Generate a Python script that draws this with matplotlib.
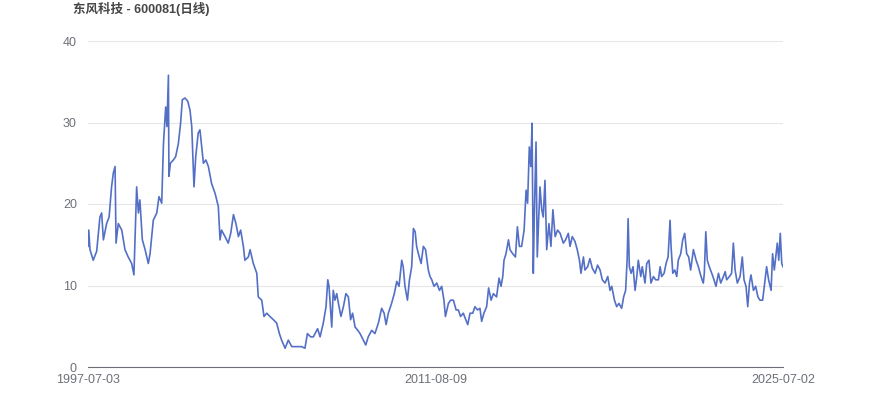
import matplotlib
matplotlib.use("Agg")
import matplotlib.pyplot as plt

plt.rcParams['font.family'] = ['Liberation Sans', 'Noto Sans CJK SC', 'DejaVu Sans']

title = "东风科技 - 600081(日线)"
tick_labels = ["1997-07-03", "2011-08-09", "2025-07-02"]

# decimal-year positions (category axis, roughly linear in time)
years = [
    1997.50, 1997.53, 1997.58, 1997.71, 1997.85, 1997.98, 1998.05, 1998.12, 1998.25, 1998.35,
    1998.45, 1998.52, 1998.59, 1998.63, 1998.72, 1998.86, 1998.99, 1999.12, 1999.26, 1999.35,
    1999.46, 1999.53, 1999.59, 1999.69, 1999.80, 1999.93, 2000.00, 2000.13, 2000.27, 2000.36,
    2000.47, 2000.54, 2000.63, 2000.68, 2000.74, 2000.76, 2000.82, 2000.94, 2001.03, 2001.14,
    2001.23, 2001.30, 2001.41, 2001.52, 2001.61, 2001.68, 2001.77, 2001.84, 2001.94, 2002.01,
    2002.08, 2002.15, 2002.25, 2002.35, 2002.48, 2002.62, 2002.75, 2002.82, 2002.88, 2003.02,
    2003.15, 2003.25, 2003.36, 2003.46, 2003.56, 2003.65, 2003.76, 2003.82, 2003.96, 2004.03,
    2004.16, 2004.30, 2004.36, 2004.50, 2004.59, 2004.70, 2004.83, 2004.97, 2005.10, 2005.21,
    2005.30, 2005.44, 2005.57, 2005.71, 2005.91, 2006.11, 2006.24, 2006.34, 2006.47, 2006.58,
    2006.65, 2006.75, 2006.85, 2006.98, 2007.09, 2007.16, 2007.21, 2007.32, 2007.38, 2007.45,
    2007.52, 2007.59, 2007.69, 2007.79, 2007.89, 2007.99, 2008.08, 2008.16, 2008.26, 2008.37,
    2008.46, 2008.59, 2008.69, 2008.79, 2008.93, 2009.06, 2009.20, 2009.33, 2009.43, 2009.51,
    2009.60, 2009.73, 2009.84, 2009.94, 2010.03, 2010.14, 2010.20, 2010.27, 2010.37, 2010.45,
    2010.54, 2010.61, 2010.68, 2010.74, 2010.81, 2010.92, 2011.01, 2011.10, 2011.21, 2011.28,
    2011.35, 2011.44, 2011.55, 2011.66, 2011.75, 2011.84, 2011.90, 2012.02, 2012.11, 2012.22,
    2012.33, 2012.42, 2012.51, 2012.62, 2012.72, 2012.80, 2012.89, 2013.00, 2013.09, 2013.19,
    2013.29, 2013.36, 2013.45, 2013.56, 2013.64, 2013.74, 2013.83, 2013.96, 2014.06, 2014.14,
    2014.21, 2014.26, 2014.34, 2014.44, 2014.50, 2014.61, 2014.72, 2014.80, 2014.88, 2014.97,
    2015.07, 2015.15, 2015.21, 2015.28, 2015.34, 2015.39, 2015.44, 2015.48, 2015.55, 2015.60,
    2015.66, 2015.71, 2015.78, 2015.84, 2015.91, 2015.98, 2016.07, 2016.15, 2016.23, 2016.32,
    2016.42, 2016.52, 2016.65, 2016.74, 2016.85, 2016.92, 2017.01, 2017.12, 2017.21, 2017.30,
    2017.36, 2017.46, 2017.52, 2017.63, 2017.72, 2017.82, 2017.93, 2018.03, 2018.13, 2018.22,
    2018.33, 2018.44, 2018.53, 2018.60, 2018.71, 2018.80, 2018.89, 2019.00, 2019.08, 2019.16,
    2019.22, 2019.26, 2019.31, 2019.38, 2019.46, 2019.54, 2019.61, 2019.67, 2019.77, 2019.83,
    2019.94, 2020.01, 2020.10, 2020.18, 2020.28, 2020.37, 2020.48, 2020.55, 2020.61, 2020.71,
    2020.79, 2020.87, 2020.95, 2020.99, 2021.06, 2021.14, 2021.22, 2021.28, 2021.38, 2021.46,
    2021.54, 2021.62, 2021.70, 2021.78, 2021.89, 2022.00, 2022.09, 2022.16, 2022.24, 2022.29,
    2022.33, 2022.39, 2022.45, 2022.53, 2022.63, 2022.72, 2022.80, 2022.90, 2022.99, 2023.10,
    2023.17, 2023.23, 2023.34, 2023.43, 2023.50, 2023.57, 2023.66, 2023.77, 2023.86, 2023.93,
    2024.01, 2024.08, 2024.15, 2024.21, 2024.31, 2024.40, 2024.49, 2024.57, 2024.68, 2024.76,
    2024.84, 2024.92, 2025.02, 2025.08, 2025.15, 2025.22, 2025.27, 2025.33, 2025.39, 2025.45,
    2025.50,
]

prices = [
    14.8, 16.8, 14.4, 13.1, 14.2, 18.4, 18.9, 15.6, 17.6, 18.4,
    22.1, 23.8, 24.6, 15.2, 17.6, 16.8, 14.4, 13.5, 12.7, 11.3,
    22.1, 18.9, 20.5, 15.6, 14.4, 12.7, 13.9, 18.0, 18.9, 20.9,
    20.1, 27.4, 31.9, 29.5, 35.8, 23.4, 25.0, 25.4, 25.8, 27.4,
    29.9, 32.8, 33.0, 32.6, 31.5, 29.5, 22.1, 25.8, 28.7, 29.1,
    27.0, 25.0, 25.4, 24.6, 22.5, 21.3, 19.7, 15.6, 16.8, 16.0,
    15.2, 16.4, 18.7, 17.6, 16.0, 16.8, 14.8, 13.1, 13.5, 14.4,
    12.7, 11.5, 8.6, 8.2, 6.2, 6.6, 6.2, 5.8, 5.4, 4.1,
    3.3, 2.3, 3.3, 2.5, 2.5, 2.5, 2.3, 4.1, 3.7, 3.7,
    4.1, 4.7, 3.7, 5.4, 7.4, 10.7, 9.9, 4.9, 9.4, 8.2,
    9.0, 7.8, 6.2, 7.4, 9.0, 8.6, 5.8, 6.6, 4.9, 4.5,
    4.1, 3.3, 2.7, 3.7, 4.5, 4.1, 5.4, 7.2, 6.6, 5.2,
    6.6, 7.8, 9.0, 10.5, 9.9, 13.1, 12.3, 9.9, 8.2, 10.7,
    12.3, 17.0, 16.6, 14.8, 13.9, 12.7, 14.8, 14.4, 11.9, 11.1,
    10.7, 9.9, 10.3, 9.4, 9.9, 8.2, 6.2, 7.8, 8.2, 8.2,
    7.0, 7.0, 6.2, 6.6, 5.8, 5.2, 6.6, 6.6, 7.4, 7.0,
    7.2, 5.6, 6.6, 7.4, 9.7, 8.2, 9.0, 8.6, 10.9, 9.9,
    11.1, 13.1, 13.9, 15.6, 14.4, 13.9, 13.5, 17.2, 14.8, 14.8,
    16.8, 21.7, 20.1, 27.0, 24.6, 29.9, 11.5, 18.4, 27.6, 13.5,
    18.4, 22.1, 19.3, 18.4, 22.9, 14.4, 17.6, 14.8, 19.3, 16.0,
    16.8, 16.4, 15.2, 15.6, 16.4, 14.8, 16.0, 15.4, 14.4, 13.1,
    11.5, 13.5, 11.9, 12.3, 13.3, 12.1, 11.5, 12.5, 11.9, 10.7,
    10.3, 11.1, 9.4, 9.9, 8.2, 7.4, 7.8, 7.2, 8.6, 9.4,
    13.1, 18.2, 12.3, 11.5, 12.3, 9.4, 11.1, 13.1, 11.1, 12.3,
    10.3, 12.7, 13.1, 10.3, 11.1, 10.7, 10.7, 12.3, 11.1, 11.5,
    12.7, 13.5, 18.0, 14.8, 11.5, 11.9, 11.1, 13.1, 13.9, 15.6,
    16.4, 13.9, 13.5, 11.9, 14.4, 13.1, 12.3, 11.5, 10.7, 10.3,
    11.5, 16.6, 13.1, 12.3, 11.5, 10.7, 9.9, 11.5, 10.3, 11.1,
    11.7, 10.7, 11.1, 11.5, 15.2, 11.9, 10.3, 11.1, 13.5, 10.7,
    9.9, 7.4, 10.3, 11.3, 9.4, 9.9, 8.6, 8.2, 8.2, 10.3,
    12.3, 10.7, 9.4, 13.9, 11.9, 13.9, 15.2, 13.1, 16.4, 12.7,
    12.3,
]

fig = plt.figure(figsize=(8.7, 4.17), dpi=100)
ax = fig.add_axes([88 / 870, 1 - 367 / 417, 695 / 870, 326 / 417])

ax.plot(years, prices, color='#5470c6', linewidth=1.2)

ax.set_ylim(0, 40)
ax.set_yticks([0, 10, 20, 30, 40])
ax.set_xlim(years[0], years[-1])
ax.set_xticks([years[0], (years[0] + years[-1]) / 2, years[-1]])
ax.set_xticklabels(tick_labels)

ax.grid(axis='y', color='#e6e6e6', linewidth=0.8)
ax.set_axisbelow(True)
for s in ['top', 'right', 'left']:
    ax.spines[s].set_visible(False)
ax.spines['bottom'].set_color('#6e7079')
ax.tick_params(axis='both', length=0, colors='#6e7079', labelsize=9)
ax.tick_params(axis='y', pad=8)
ax.tick_params(axis='x', pad=5)

fig.text(73 / 870, 1 - 9 / 417, title, fontsize=9, fontweight='bold',
         color='#464646', va='center', ha='left')

fig.savefig('out.png', dpi=100)
